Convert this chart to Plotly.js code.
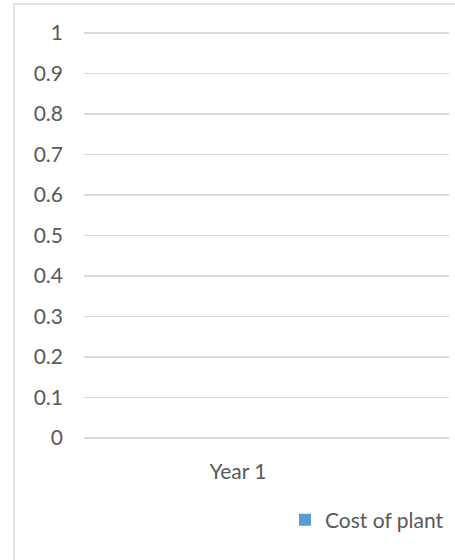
<!DOCTYPE html>
<html>
<head>
<meta charset="utf-8">
<script src="https://cdn.plot.ly/plotly-3.0.1.min.js"></script>
<style>html,body{margin:0;padding:0;background:#fff;}#chart{width:455px;height:560px;}</style>
</head>
<body>
<div id="chart"></div>
<script>
const categories = ['Year 1'];
const costOfPlant = [0];
const seriesName = 'Cost of plant';

const font = {family: 'Lato, "Open Sans", sans-serif', size: 21, color: '#595959'};

Plotly.newPlot('chart', [{
  type: 'bar',
  x: categories,
  y: costOfPlant,
  name: seriesName,
  marker: {color: '#5B9BD5'},
  showlegend: true
}], {
  width: 455, height: 560,
  margin: {l: 84, r: 6, t: 29, b: 122},
  paper_bgcolor: '#ffffff', plot_bgcolor: '#ffffff',
  font: font,
  showlegend: true,
  xaxis: {
    type: 'category',
    range: [-0.5, 0.685],
    showgrid: false, zeroline: false, showline: false,
    ticks: '', ticklabelstandoff: 19,
    tickfont: font, fixedrange: true
  },
  yaxis: {
    range: [0, 1.01], dtick: 0.1, tick0: 0,
    showgrid: true, gridcolor: '#d9d9d9', gridwidth: 1.3,
    zeroline: true, zerolinecolor: '#d9d9d9', zerolinewidth: 1.3,
    showline: false, ticks: '', ticklabelstandoff: 20,
    tickfont: font, fixedrange: true
  },
  legend: {
    x: 1.0, xanchor: 'right', y: -0.2005, yanchor: 'middle',
    orientation: 'h', font: font, bgcolor: 'rgba(0,0,0,0)',
    itemwidth: 30
  },
  shapes: [{
    type: 'rect', xref: 'paper', yref: 'paper',
    x0: -0.1918, x1: 1.2, y0: -0.6, y1: 1.0611,
    line: {color: '#d9d9d9', width: 1.5}, fillcolor: 'rgba(0,0,0,0)', layer: 'below'
  }]
}, {displayModeBar: false, staticPlot: true});
</script>
</body>
</html>
